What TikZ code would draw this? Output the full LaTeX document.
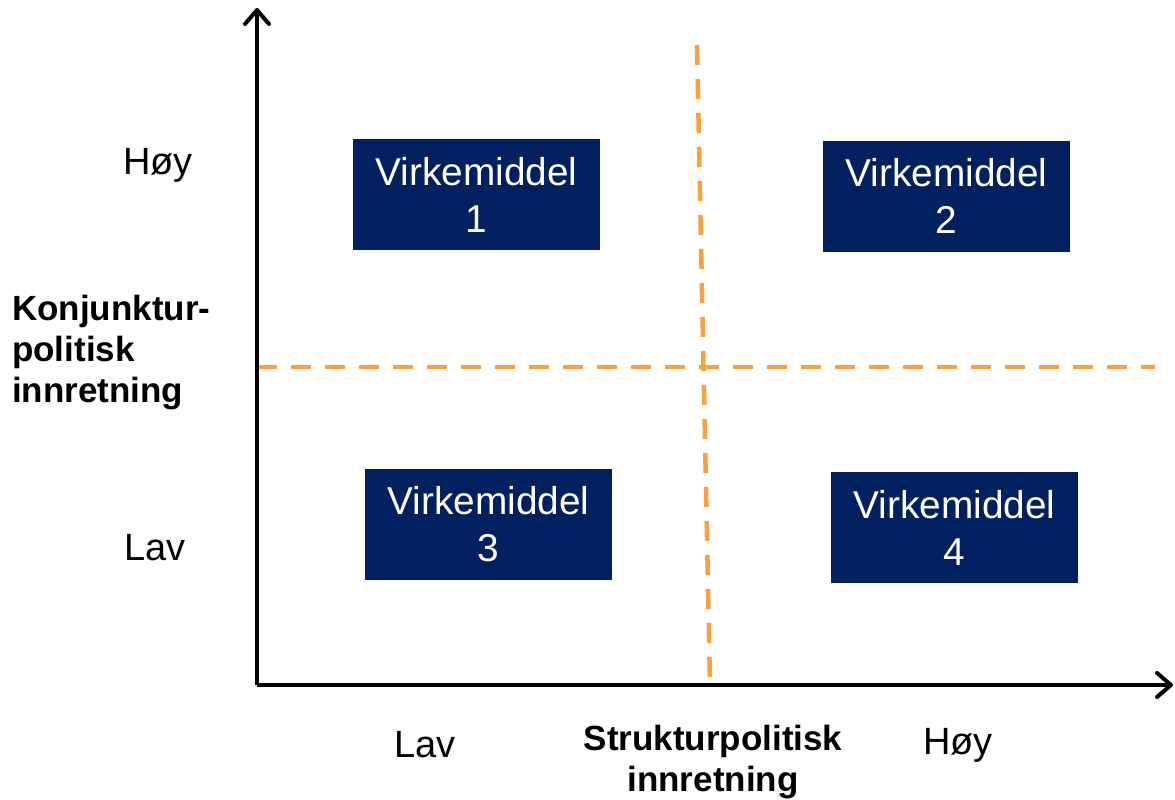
\documentclass[tikz,border=0pt]{standalone}
\usepackage{fontspec}
\setmainfont{Liberation Sans}
\usetikzlibrary{arrows.meta,positioning}

\begin{document}
\begin{tikzpicture}[x=1pt,y=-1pt]
\tikzset{
  axisline/.style={draw=black,line width=4pt,-{Straight Barb[length=14pt,width=24pt,line cap=round,line join=round]}},
  splitline/.style={draw=orangedash,line width=4.5pt,dash pattern=on 20pt off 14pt},
  measurebox/.style={fill=navybox,text=white,minimum width=247pt,minimum height=111pt,inner sep=0pt,align=center,font=\fontsize{38.8}{47}\selectfont},
  levellabel/.style={inner sep=0pt,font=\fontsize{38}{44}\selectfont},
  axistitle/.style={inner sep=0pt,font=\fontsize{35}{41}\selectfont\bfseries}
}
\definecolor{orangedash}{HTML}{F9A03F}
\definecolor{navybox}{HTML}{002060}
\useasboundingbox (0,0) rectangle (1175,800);
% axes
\coordinate (origo) at (257,685);
\coordinate (y_top) at (257,8);
\coordinate (x_end) at (1173,685);
% dashed quadrant split
\coordinate (v_top) at (697,45);
\coordinate (v_bot) at (710,685);
\coordinate (h_left) at (257,367);
\coordinate (h_right) at (1155,367);
\draw[splitline] (v_top) -- (v_bot);
\draw[splitline] (h_left) -- (h_right);
\draw[axisline] (origo) -- (y_top);
\draw[axisline] (origo) -- (x_end);
% boxes
\node[measurebox] (vm_1) at (476.5,194.5) {Virkemiddel\\1};
\node[measurebox] (vm_2) at (946.5,196) {Virkemiddel\\2};
\node[measurebox] (vm_3) at (488.5,524.5) {Virkemiddel\\3};
\node[measurebox] (vm_4) at (954.5,527.5) {Virkemiddel\\4};
% labels
\node[levellabel] (y_high) at (158,165) {Høy};
\node[levellabel] (y_low) at (155,548) {Lav};
\node[levellabel] (x_low) at (425,745) {Lav};
\node[levellabel] (x_high) at (958,745) {Høy};
\node[axistitle,anchor=west,align=left] (y_title) at (12,353) {Konjunktur-\\politisk\\innretning};
\node[axistitle,align=center] (x_title) at (713,762) {Strukturpolitisk\\innretning};
\end{tikzpicture}
\end{document}
